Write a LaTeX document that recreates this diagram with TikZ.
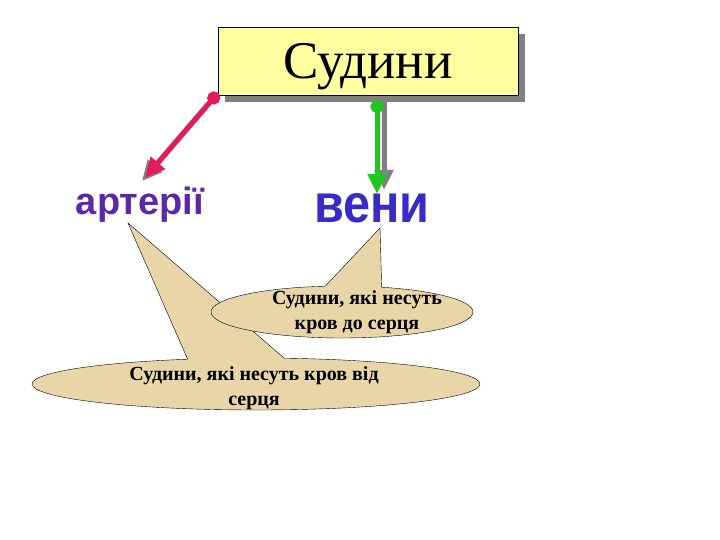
\documentclass[tikz,border=0pt]{standalone}
\usepackage{fontspec}
\setmainfont{Liberation Serif}
\setsansfont{Liberation Sans}
\usetikzlibrary{arrows.meta,shapes.callouts,shadows}

\definecolor{boxyellow}{RGB}{255,255,160}
\definecolor{artred}{RGB}{232,24,92}
\definecolor{vengreen}{RGB}{30,200,30}
\definecolor{artpurple}{RGB}{92,40,170}
\definecolor{venblue}{RGB}{58,42,200}
\definecolor{calltan}{RGB}{233,214,168}

\tikzset{
  hint/.style={ellipse callout, draw=black, fill=calltan, callout pointer arc=25},
  hinttext/.style={font=\fontsize{20}{25}\selectfont\bfseries, align=center},
  vessel/.style={line width=5pt, {Circle[length=13pt]}-{Triangle[length=20pt,width=18pt]}},
  vshadow/.style={line width=5pt, gray, -{Triangle[length=20pt,width=18pt]}},
}

\begin{document}
\begin{tikzpicture}[x=1pt,y=-1pt]
      \useasboundingbox (0,0) rectangle (720,540);
      % title box
      \node[draw, fill=boxyellow, minimum width=300pt, minimum height=68pt, text depth=0pt,
            drop shadow={shadow xshift=7pt, shadow yshift=-7pt, fill=gray, opacity=1},
            font=\fontsize{53}{53}\selectfont] (sud) at (368,61) {Судини};
      % words
      \node[font=\fontsize{38}{38}\selectfont\sffamily\bfseries, text=artpurple] (art) at (140,205) {артерії};
      \node[font=\fontsize{54}{54}\selectfont\sffamily\bfseries, text=venblue, xscale=0.9] (ven) at (372,208) {вени};
      % arrows
      \coordinate (redstart) at (218,93);
      \coordinate (redtip) at (145,178);
      \coordinate (greenstart) at (377,100);
      \coordinate (greentip) at (377,194);
      \draw[vshadow] ([shift={(-3,3)}]redstart) -- ([shift={(-3,3)}]redtip);
      \draw[vessel, artred] (redstart) -- (redtip);
      \draw[vshadow] ([shift={(7,0)}]greenstart) -- ([shift={(7,-4)}]greentip);
      \draw[vessel, vengreen] (greenstart) -- (greentip);
      % callouts
      \node[hint, minimum width=448pt, minimum height=52pt, callout absolute pointer={(128,223)}] (c2) at (256,384) {};
      \node[hint, minimum width=262pt, minimum height=52pt, callout absolute pointer={(380,228)}] (c1) at (342,312) {};
      \node[hinttext] (t1) at (357,312) {Судини, які несуть\\кров до серця};
      \node[hinttext] (t2) at (254,388) {Судини, які несуть кров від\\серця};
\end{tikzpicture}
\end{document}
